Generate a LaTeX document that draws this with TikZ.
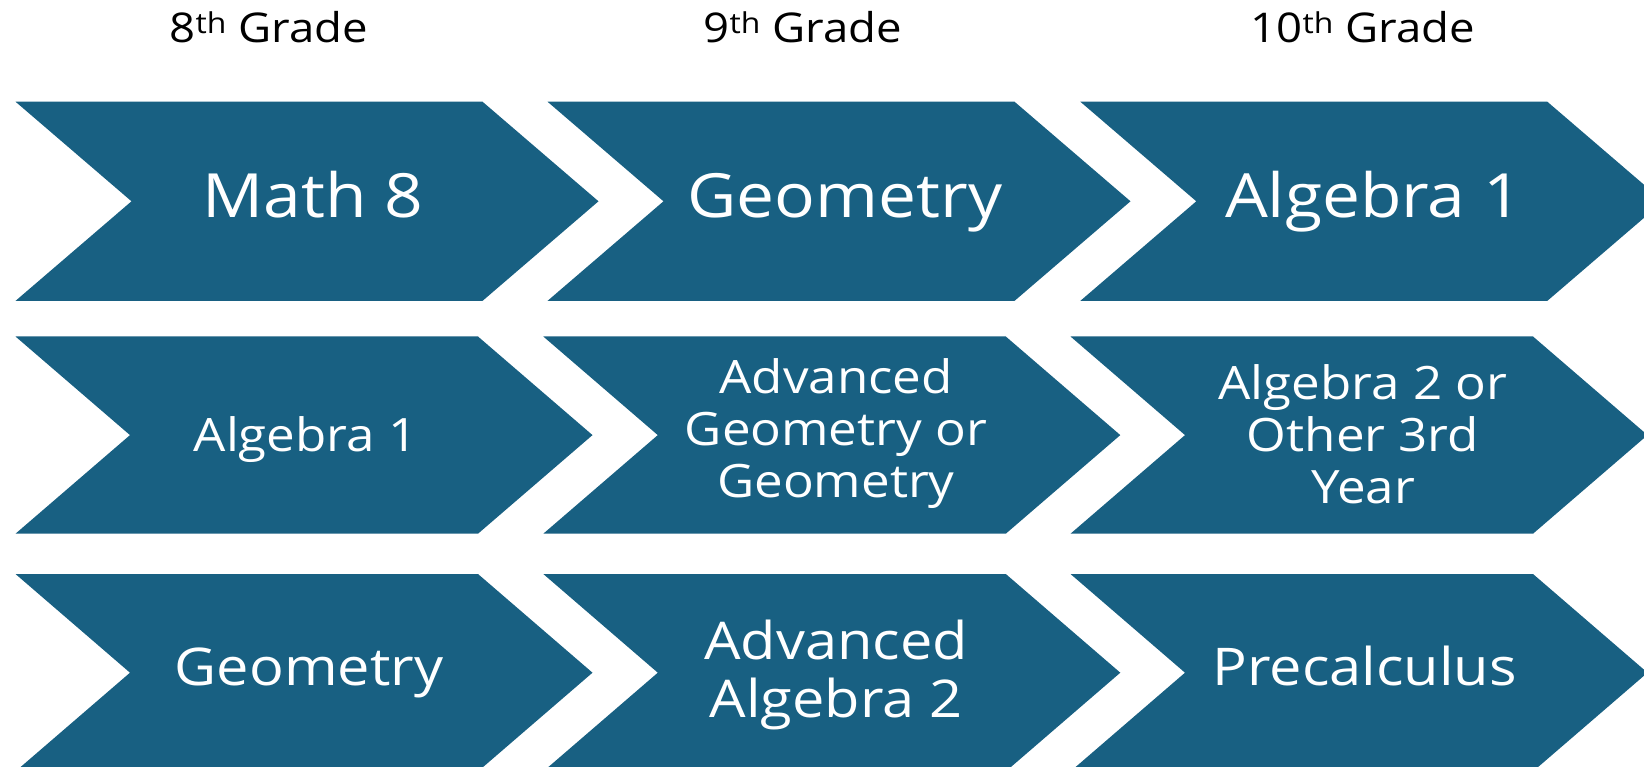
\documentclass[tikz,border=0pt]{standalone}
\usepackage{fontspec}
\setmainfont[FakeStretch=1.11]{Open Sans}
\definecolor{chevblue}{RGB}{24,96,130}
\newcommand\chevronpath[5]{% left, ycenter, W, D, halfheight
  \fill[chev] (#1,#2-#5) -- (#1+#3-#4,#2-#5) -- (#1+#3,#2) -- (#1+#3-#4,#2+#5) -- (#1,#2+#5) -- (#1+#4,#2) -- cycle;}
\begin{document}
\begin{tikzpicture}[x=1pt,y=-1pt,
  chev/.style={fill=chevblue},
  head/.style={font=\fontsize{41}{45}\selectfont, text=black, inner sep=0pt, anchor=base},
  big/.style={font=\fontsize{61}{70}\selectfont, text=white, inner sep=0pt, align=center, anchor=base},
  mid/.style={font=\fontsize{46}{52}\selectfont, text=white, inner sep=0pt, align=center},
  low/.style={font=\fontsize{52}{58}\selectfont, text=white, inner sep=0pt, align=center}]
\useasboundingbox (0,0) rectangle (1644,767);
\clip (0,0) rectangle (1644,767);
% headers
\node[head] (h8) at (269,43) {8\textsuperscript{th} Grade};
\node[head] (h9) at (803,43) {9\textsuperscript{th} Grade};
\node[head] (h10) at (1363,43) {10\textsuperscript{th} Grade};
% row 1
\chevronpath{15.5}{201.3}{583}{116}{99.6}
\chevronpath{547.5}{201.3}{583}{116}{99.6}
\chevronpath{1080.3}{201.3}{583}{116}{99.6}
% row 2
\chevronpath{15.5}{435.1}{577}{114.5}{98.6}
\chevronpath{543.3}{435.1}{577}{114.5}{98.6}
\chevronpath{1070.5}{435.1}{577}{114.5}{98.6}
% row 3
\chevronpath{15.5}{672.7}{577}{114.5}{98.7}
\chevronpath{543.3}{672.7}{577}{114.5}{98.7}
\chevronpath{1070.5}{672.7}{577}{114.5}{98.7}
% texts
\node[big] (r1a) at (313,218) {Math 8};
\node[big] (r1b) at (845,218) {Geometry};
\node[big] (r1c) at (1373.5,218) {Algebra 1};
\node[mid, anchor=base] (r2a) at (305.6,451) {Algebra 1};
\node[mid] (r2b) at (836,434) {Advanced\\Geometry or\\Geometry};
\node[mid] (r2c) at (1363,434) {Algebra 2 or\\Other 3rd\\Year};
\node[low, anchor=base] (r3a) at (309,685) {Geometry};
\node[low] (r3b) at (836,675) {Advanced\\Algebra 2};
\node[low, anchor=base] (r3c) at (1364.6,685) {Precalculus};
\end{tikzpicture}
\end{document}
